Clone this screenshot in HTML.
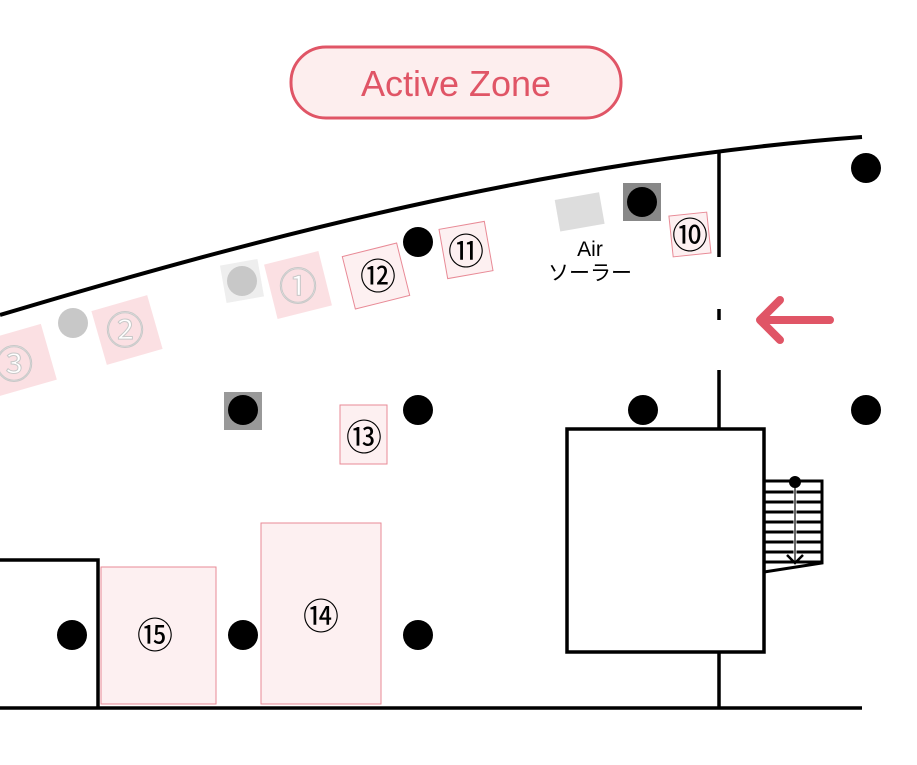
<!DOCTYPE html>
<html><head><meta charset="utf-8"><style>body{margin:0;background:#fff}svg{display:block}</style></head><body>
<svg width="917" height="765" viewBox="0 0 917 765" xmlns="http://www.w3.org/2000/svg" font-family="Liberation Sans, 'Noto Sans CJK JP', sans-serif">
<rect x="291" y="47" width="330" height="71" rx="35" fill="#fdeeee" stroke="#e05566" stroke-width="3"/>
<text x="456" y="96" font-size="36" fill="#e05566" text-anchor="middle">Active Zone</text>
<path d="M0,315 C250,240 550,160 862,137" fill="none" stroke="#000" stroke-width="4"/>
<g stroke="#000" stroke-width="3.5">
<line x1="719" y1="152" x2="719" y2="257"/><line x1="719" y1="309" x2="719" y2="320"/>
<line x1="719" y1="370" x2="719" y2="430"/><line x1="719" y1="652" x2="719" y2="708"/>
<line x1="0" y1="708" x2="862" y2="708"/>
<polyline points="0,560 98,560 98,708" fill="none"/>
<rect x="567" y="429" width="197" height="223" fill="#fff"/>
</g>
<g stroke="#000">
<path d="M764,481 H822 V563 L764,572" fill="none" stroke-width="3"/>
<g stroke-width="3"><line x1="764" y1="492" x2="822" y2="492"/><line x1="764" y1="502" x2="822" y2="502"/><line x1="764" y1="512" x2="822" y2="512"/><line x1="764" y1="522" x2="822" y2="522"/><line x1="764" y1="532" x2="822" y2="532"/><line x1="764" y1="542" x2="822" y2="542"/><line x1="764" y1="552" x2="822" y2="552"/><line x1="764" y1="562" x2="822" y2="562"/></g>
<line x1="795" y1="482" x2="795" y2="562" stroke="#fff" stroke-width="3"/>
<line x1="795" y1="482" x2="795" y2="562" stroke-width="1.2"/>
<path d="M787,555 L795,563 L803,555" fill="none" stroke-width="2.5"/>
</g>
<circle cx="795" cy="482" r="6"/>
<path d="M760,320 H830 M780,300 L760,320 L780,340" fill="none" stroke="#e05566" stroke-width="8" stroke-linecap="round" stroke-linejoin="round"/>
<g transform="rotate(-16 20 360)"><rect x="-10" y="331" width="60" height="58" fill="#fbe0e3"/></g>
<text x="14" y="378" font-size="38" fill="#fff" stroke="#c8c8c8" stroke-width="1" text-anchor="middle">③</text>
<circle cx="73" cy="323" r="15" fill="#c8c8c8"/>
<g transform="rotate(-16 127 330)"><rect x="98" y="302" width="58" height="56" fill="#fbe0e3"/></g>
<text x="125" y="344" font-size="38" fill="#fff" stroke="#c8c8c8" stroke-width="1" text-anchor="middle">②</text>
<g transform="rotate(-10 242 281)"><rect x="223" y="262" width="38" height="38" fill="#eeeeee"/></g>
<circle cx="242" cy="281" r="15" fill="#c8c8c8"/>
<g transform="rotate(-14 298 285)"><rect x="270" y="257" width="56" height="56" fill="#fbe0e3"/></g>
<text x="298" y="300" font-size="38" fill="#fff" stroke="#c8c8c8" stroke-width="1" text-anchor="middle">①</text>
<g fill="#fdf0f1" stroke="#e88a96" stroke-width="1">
<g transform="rotate(-14 376 276)"><rect x="348" y="249" width="56" height="54"/></g>
<g transform="rotate(-10 466 250)"><rect x="443" y="225" width="46" height="50"/></g>
<g transform="rotate(-6 690 235)"><rect x="671" y="214" width="38" height="41"/></g>
<rect x="340" y="405" width="47" height="59"/>
<rect x="261" y="523" width="120" height="181"/>
<rect x="101" y="567" width="115" height="137"/>
</g>
<g font-size="36" text-anchor="middle" fill="#000">
<text x="378" y="289">⑫</text><text x="466" y="264">⑪</text><text x="690" y="248">⑩</text>
<text x="364" y="450">⑬</text><text x="321" y="629">⑭</text><text x="155" y="648">⑮</text>
</g>
<g transform="rotate(-10 579 211)"><rect x="557" y="196" width="45" height="32" fill="#dddddd"/></g>
<rect x="623" y="183" width="38" height="38" fill="#888"/>
<rect x="224" y="392" width="38" height="38" fill="#999"/>
<text x="590" y="256" font-size="21" text-anchor="middle">Air</text>
<text x="590" y="280" font-size="21" text-anchor="middle">ソーラー</text>
<g fill="#000">
<circle cx="642" cy="202" r="15"/><circle cx="418" cy="242" r="15"/><circle cx="866" cy="168" r="15"/>
<circle cx="243" cy="410" r="15"/><circle cx="418" cy="410" r="15"/><circle cx="643" cy="410" r="15"/><circle cx="866" cy="410" r="15"/>
<circle cx="72" cy="635" r="15"/><circle cx="243" cy="635" r="15"/><circle cx="418" cy="635" r="15"/>
</g>
</svg>
</body></html>
